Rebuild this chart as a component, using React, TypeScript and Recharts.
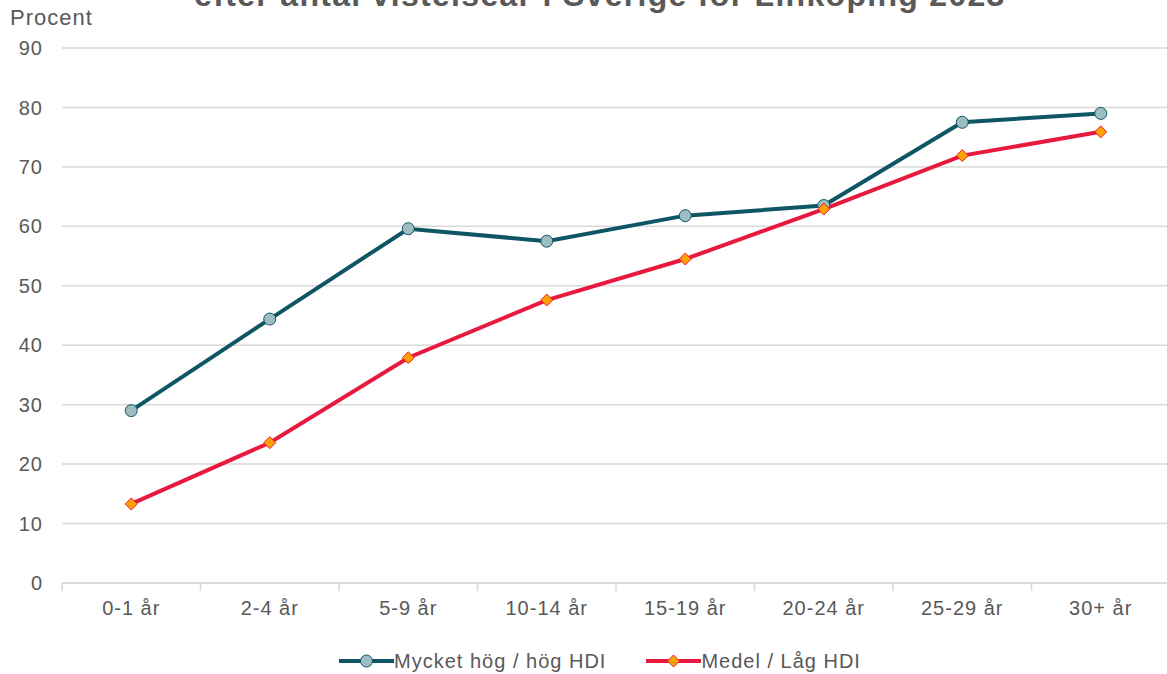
import React from "react";
import { LineChart, Line, XAxis, YAxis, CartesianGrid, Legend } from "recharts";

const categories = ["0-1 år", "2-4 år", "5-9 år", "10-14 år", "15-19 år", "20-24 år", "25-29 år", "30+ år"];
const highHdi = [29.0, 44.4, 59.6, 57.5, 61.8, 63.5, 77.5, 79.0];
const lowHdi = [13.3, 23.6, 37.9, 47.6, 54.5, 62.9, 71.9, 75.9];
const yTicks = [0, 10, 20, 30, 40, 50, 60, 70, 80, 90];
const seriesNames = ["Mycket hög / hög HDI", "Medel / Låg HDI"];
const title = "efter antal vistelseår i Sverige för Linköping 2023";
const yLabel = "Procent";

const data = categories.map((c, i) => ({ cat: c, high: highHdi[i], low: lowHdi[i] }));

const TEAL = "#0F5664";
const TEAL_FILL = "#9DBDC2";
const RED = "#E8193F";
const ORANGE = "#FFA200";
const TEXT = "#595959";
const GRID = "#D9D9D9";
const FONT = "'Liberation Sans', Arial, sans-serif";

const Diamond = (props: any) => {
  const { cx, cy } = props;
  if (cx == null || cy == null) return null;
  const r = 6;
  return (
    <path
      d={`M${cx},${cy - r} L${cx + r},${cy} L${cx},${cy + r} L${cx - r},${cy} Z`}
      fill={ORANGE}
      stroke={RED}
      strokeWidth={1}
    />
  );
};

const XTick = (props: any) => {
  const { x, y, payload, index, visibleTicksCount } = props;
  const off = payload && payload.offset != null ? payload.offset : 0;
  const isLast = index === (visibleTicksCount ?? categories.length) - 1;
  return (
    <g>
      <line x1={x - off} x2={x - off} y1={y - 8} y2={y} stroke={GRID} strokeWidth={1.5} />
      {isLast && <line x1={x + off} x2={x + off} y1={y - 8} y2={y} stroke={GRID} strokeWidth={1.5} />}
      <text
        x={x}
        y={y + 24}
        textAnchor="middle"
        fill={TEXT}
        fontSize={20}
        letterSpacing={1}
        fontFamily={FONT}
      >
        {payload.value}
      </text>
    </g>
  );
};

const LegendContent = () => {
  const items = [
    { name: seriesNames[0], color: TEAL, marker: "circle" },
    { name: seriesNames[1], color: RED, marker: "diamond" },
  ];
  return (
    <div
      style={{
        display: "flex",
        justifyContent: "center",
        alignItems: "center",
        height: 26,
        paddingLeft: 30,
        fontFamily: FONT,
        fontSize: 20,
        letterSpacing: 1,
        color: TEXT,
      }}
    >
      {items.map((it, i) => (
        <div key={i} style={{ display: "flex", alignItems: "center", marginRight: i === 0 ? 40 : 0 }}>
          <svg width={55} height={20}>
            <line x1={0} x2={55} y1={10} y2={10} stroke={it.color} strokeWidth={4} />
            {it.marker === "circle" ? (
              <circle cx={27.5} cy={10} r={6} fill={TEAL_FILL} stroke={TEAL} strokeWidth={1} />
            ) : (
              <path d="M27.5,4 L33.5,10 L27.5,16 L21.5,10 Z" fill={ORANGE} stroke={RED} strokeWidth={1} />
            )}
          </svg>
          <span>{it.name}</span>
        </div>
      ))}
    </div>
  );
};

export default function App() {
  return (
    <div style={{ position: "absolute", left: 0, top: 0, width: 1167, height: 674, overflow: "hidden", background: "#fff" }}>
      <div
        style={{
          position: "absolute",
          top: -21,
          left: 0,
          width: 1200,
          textAlign: "center",
          fontFamily: FONT,
          fontWeight: "bold",
          fontSize: 32,
          lineHeight: "32px",
          letterSpacing: 1.3,
          color: TEXT,
          whiteSpace: "nowrap",
        }}
      >
        {title}
      </div>
      <div
        style={{
          position: "absolute",
          top: 6,
          left: 10,
          fontFamily: FONT,
          fontSize: 22,
          letterSpacing: 1,
          color: TEXT,
          lineHeight: "24px",
        }}
      >
        {yLabel}
      </div>
      <LineChart width={1170} height={674} data={data} margin={{ top: 48, right: 0, bottom: 0, left: 0 }}>
        <CartesianGrid vertical={false} stroke={GRID} strokeWidth={1.5} />
        <XAxis
          dataKey="cat"
          scale="band"
          stroke={GRID}
          strokeWidth={1.5}
          tickLine={false}
          tickSize={8}
          tickMargin={0}
          height={65}
          tick={<XTick />}
          interval={0}
        />
        <YAxis
          domain={[0, 90]}
          ticks={yTicks}
          axisLine={false}
          tickLine={false}
          tickMargin={13}
          width={62}
          tick={{ fill: TEXT, fontSize: 20, fontFamily: FONT, letterSpacing: 1 }}
        />
        <Legend content={<LegendContent />} verticalAlign="bottom" height={26} />
        <Line
          dataKey="high"
          name={seriesNames[0]}
          stroke={TEAL}
          strokeWidth={4}
          dot={{ r: 6, fill: TEAL_FILL, stroke: TEAL, strokeWidth: 1 }}
          activeDot={false}
          isAnimationActive={false}
        />
        <Line
          dataKey="low"
          name={seriesNames[1]}
          stroke={RED}
          strokeWidth={4}
          dot={<Diamond />}
          activeDot={false}
          isAnimationActive={false}
        />
      </LineChart>
    </div>
  );
}
